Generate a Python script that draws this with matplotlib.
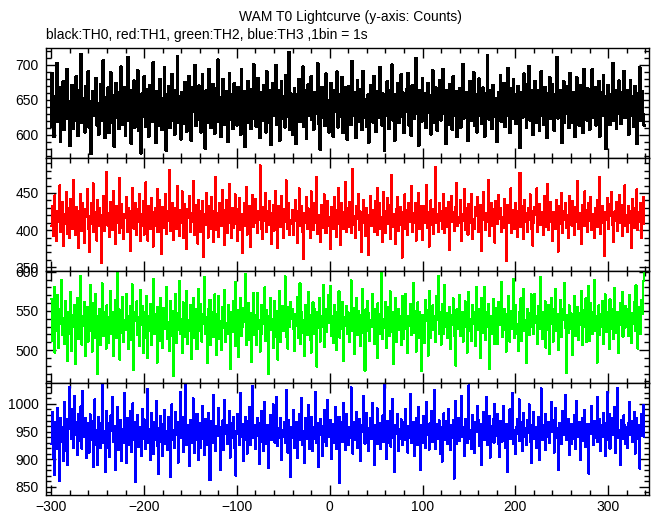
import numpy as np
import matplotlib
matplotlib.use("Agg")
import matplotlib.pyplot as plt
from matplotlib.ticker import MultipleLocator

plt.rcParams['font.family'] = ['Liberation Sans', 'DejaVu Sans']

title = "WAM T0 Lightcurve (y-axis: Counts)"
subtitle = "black:TH0, red:TH1, green:TH2, blue:TH3 ,1bin = 1s"
t_start = -300  # first bin time (s), 1 s bins

th0 = [
612, 688, 641, 598, 655, 630, 702, 619, 644, 667, 590, 638, 651, 676, 607, 629, 660, 694, 623, 648,
585, 642, 671, 633, 609, 657, 620, 683, 646, 599, 664, 631, 715, 618, 652, 637, 604, 669, 642, 626,
690, 611, 648, 573, 639, 662, 627, 658, 681, 614, 645, 600, 636, 672, 649, 621, 706, 633, 596, 654,
628, 667, 603, 645, 689, 617, 639, 656, 583, 642, 674, 625, 661, 609, 650, 697, 632, 615, 668, 641,
599, 653, 634, 711, 620, 647, 588, 663, 638, 677, 611, 645, 629, 692, 606, 651, 640, 574, 659, 626,
683, 637, 612, 665, 644, 598, 671, 630, 656, 619, 703, 641, 627, 589, 662, 648, 614, 679, 635, 607,
652, 624, 696, 640, 578, 658, 633, 669, 610, 647, 686, 621, 643, 601, 664, 636, 712, 618, 655, 629,
594, 661, 642, 616, 675, 638, 605, 650, 684, 627, 646, 592, 668, 633, 657, 699, 613, 641, 622, 670,
639, 604, 659, 686, 625, 648, 581, 663, 634, 617, 693, 645, 610, 656, 672, 630, 602, 666, 643, 619,
707, 636, 653, 597, 641, 679, 615, 649, 628, 662, 590, 644, 688, 622, 637, 658, 609, 673, 646, 631,
614, 668, 637, 650, 600, 694, 627, 645, 662, 583, 655, 632, 676, 618, 641, 609, 665, 639, 701, 624,
657, 612, 643, 681, 629, 596, 660, 637, 620, 671, 646, 604, 690, 633, 651, 617, 664, 586, 642, 674,
628, 653, 699, 615, 640, 663, 592, 647, 676, 623, 638, 655, 611, 685, 644, 626, 718, 608, 659, 635,
601, 648, 666, 631, 587, 657, 642, 679, 619, 650, 634, 697, 612, 645, 663, 595, 640, 672, 627, 654,
683, 622, 639, 608, 661, 646, 630, 702, 616, 653, 579, 642, 668, 625, 656, 613, 687, 637, 649, 604,
641, 674, 620, 655, 598, 664, 633, 647, 690, 611, 639, 658, 626, 682, 603, 650, 667, 622, 645, 593,
669, 632, 648, 615, 705, 640, 627, 661, 596, 652, 678, 619, 643, 636, 665, 607, 691, 634, 650, 624,
612, 657, 589, 646, 671, 630, 653, 618, 684, 639, 605, 662, 648, 625, 696, 637, 614, 659, 642, 577,
655, 628, 676, 644, 609, 663, 636, 700, 621, 649, 592, 658, 631, 673, 645, 617, 640, 686, 626, 660,
603, 647, 633, 665, 688, 614, 651, 638, 599, 670, 642, 623, 657, 709, 630, 646, 585, 664, 637, 619,
681, 640, 625, 659, 610, 648, 674, 632, 656, 601, 643, 692, 618, 653, 629, 667, 606, 645, 636, 678,
621, 658, 694, 630, 646, 587, 663, 641, 615, 672, 639, 654, 608, 683, 627, 650, 662, 597, 644, 633,
666, 611, 647, 639, 701, 624, 655, 629, 661, 592, 650, 676, 620, 643, 635, 689, 613, 658, 641, 604,
648, 680, 627, 653, 616, 667, 638, 598, 659, 645, 713, 631, 622, 664, 647, 609, 671, 636, 652, 626,
590, 644, 661, 630, 685, 619, 650, 637, 674, 612, 657, 641, 695, 628, 603, 666, 646, 624, 679, 639,
657, 616, 642, 669, 633, 582, 660, 648, 625, 687, 640, 654, 611, 672, 637, 698, 621, 646, 663, 600,
634, 676, 652, 618, 645, 663, 606, 641, 690, 628, 655, 615, 668, 643, 596, 659, 636, 682, 623, 649,
672, 629, 606, 658, 640, 711, 624, 651, 635, 664, 589, 647, 676, 618, 655, 631, 669, 644, 610, 688,
643, 617, 661, 636, 597, 653, 682, 627, 646, 613, 670, 639, 658, 603, 694, 632, 649, 621, 666, 640,
608, 659, 645, 693, 625, 640, 668, 614, 652, 631, 676, 598, 643, 661, 627, 685, 636, 655, 580, 647,
671, 634, 615, 657, 644, 702, 621, 638, 663, 609, 649, 630, 677, 642, 616, 660, 637, 691, 625, 652,
635, 664, 601, 646, 678, 627, 655, 640, 612, 669, 648, 587, 659, 633, 696, 620, 645, 662, 629, 614,
]

th1 = [
405, 433, 392, 418, 447, 401, 385, 426, 411, 460, 397, 414, 438, 379, 422, 408, 451, 395, 417, 429,
389, 442, 413, 402, 468, 420, 394, 431, 407, 376, 425, 415, 449, 399, 436, 410, 383, 428, 418, 455,
402, 371, 419, 436, 408, 463, 397, 424, 413, 386, 441, 405, 430, 420, 356, 417, 446, 399, 427, 411,
478, 406, 423, 391, 438, 414, 400, 452, 419, 381, 433, 409, 426, 396, 470, 412, 435, 403, 388, 421,
416, 444, 398, 430, 407, 372, 425, 413, 457, 402, 419, 437, 393, 428, 411, 448, 385, 422, 406, 439,
394, 421, 464, 410, 386, 432, 417, 401, 443, 425, 378, 414, 429, 406, 455, 397, 420, 440, 409, 368,
431, 403, 418, 449, 395, 426, 412, 481, 399, 422, 408, 437, 387, 415, 430, 401, 459, 418, 392, 427,
410, 452, 389, 420, 435, 405, 374, 428, 416, 446, 398, 423, 411, 466, 393, 417, 434, 404, 382, 441,
425, 397, 412, 439, 364, 421, 407, 450, 413, 390, 432, 419, 402, 445, 426, 384, 414, 472, 400, 423,
391, 436, 418, 405, 454, 411, 427, 380, 420, 441, 396, 409, 462, 415, 389, 430, 403, 424, 448, 408,
417, 385, 429, 443, 400, 421, 369, 413, 436, 406, 458, 394, 422, 410, 433, 377, 416, 447, 404, 428,
442, 409, 396, 425, 414, 487, 401, 419, 388, 431, 412, 450, 398, 426, 407, 439, 415, 381, 423, 434,
399, 421, 453, 407, 376, 432, 417, 404, 446, 413, 390, 428, 411, 467, 402, 420, 436, 393, 414, 408,
427, 394, 412, 440, 419, 383, 425, 456, 406, 418, 432, 398, 361, 423, 410, 444, 401, 429, 415, 389,
452, 413, 400, 426, 437, 409, 471, 395, 420, 411, 384, 434, 417, 403, 448, 422, 396, 412, 439, 406,
418, 375, 431, 414, 402, 445, 420, 391, 427, 457, 408, 416, 380, 437, 424, 401, 413, 465, 397, 429,
404, 438, 411, 396, 423, 482, 407, 419, 389, 433, 415, 448, 400, 425, 370, 414, 441, 409, 426, 392,
430, 412, 367, 421, 446, 405, 427, 416, 398, 439, 411, 457, 393, 420, 436, 402, 418, 384, 451, 413,
396, 425, 443, 408, 417, 388, 434, 474, 404, 422, 412, 381, 429, 445, 399, 416, 431, 407, 363, 424,
415, 448, 402, 427, 393, 436, 411, 420, 459, 398, 423, 410, 437, 386, 426, 413, 450, 401, 419, 433,
387, 419, 432, 410, 461, 403, 424, 378, 416, 440, 407, 428, 395, 414, 485, 409, 421, 398, 436, 412,
426, 401, 417, 449, 396, 430, 412, 404, 438, 373, 420, 446, 411, 424, 399, 417, 432, 463, 405, 418,
410, 441, 385, 422, 413, 455, 400, 429, 418, 394, 435, 409, 426, 449, 388, 415, 402, 431, 419, 444,
397, 420, 434, 406, 372, 427, 451, 414, 400, 423, 411, 468, 392, 419, 436, 405, 428, 412, 383, 439,
422, 408, 447, 415, 430, 398, 417, 403, 442, 425, 358, 413, 434, 409, 421, 456, 396, 427, 411, 401,
437, 413, 391, 426, 419, 477, 404, 432, 416, 388, 440, 411, 423, 397, 430, 414, 448, 402, 425, 379,
409, 431, 420, 456, 398, 417, 435, 407, 424, 413, 393, 446, 418, 404, 429, 462, 400, 421, 438, 411,
385, 424, 416, 402, 441, 427, 371, 419, 433, 408, 450, 396, 425, 414, 437, 403, 420, 389, 446, 417,
428, 406, 439, 418, 394, 431, 411, 466, 401, 423, 415, 381, 434, 420, 405, 452, 412, 427, 398, 436,
413, 445, 400, 422, 409, 389, 430, 417, 440, 404, 426, 471, 395, 418, 432, 410, 365, 424, 414, 443,
401, 428, 419, 435, 451, 407, 384, 425, 412, 438, 399, 421, 447, 410, 427, 392, 434, 416, 460, 405,
420, 397, 433, 410, 426, 376, 442, 415, 403, 429, 418, 455, 400, 424, 411, 437, 390, 428, 445, 408,
]

th2 = [
565, 512, 538, 581, 497, 546, 525, 570, 503, 552, 533, 590, 519, 541, 508, 563, 529, 486, 548, 536,
521, 574, 499, 545, 530, 558, 482, 537, 567, 514, 550, 526, 595, 507, 543, 531, 561, 492, 539, 555,
511, 547, 583, 524, 498, 560, 535, 516, 572, 544, 470, 529, 553, 506, 540, 585, 518, 549, 527, 502,
557, 533, 509, 542, 576, 521, 548, 493, 536, 564, 515, 598, 530, 552, 488, 545, 522, 568, 510, 539,
526, 571, 544, 501, 535, 556, 513, 584, 528, 475, 549, 537, 562, 519, 542, 505, 577, 532, 556, 496,
548, 516, 534, 569, 490, 543, 525, 559, 507, 538, 591, 520, 546, 531, 484, 555, 539, 512, 566, 529,
503, 554, 527, 541, 580, 514, 536, 499, 563, 545, 518, 550, 467, 533, 572, 509, 547, 526, 588, 521,
540, 496, 561, 532, 517, 549, 575, 508, 538, 524, 557, 489, 543, 567, 515, 530, 553, 501, 536, 578,
525, 559, 511, 546, 534, 593, 520, 542, 483, 552, 529, 564, 506, 539, 548, 517, 571, 533, 494, 546,
569, 514, 537, 500, 555, 528, 544, 577, 510, 535, 521, 558, 540, 476, 549, 523, 562, 531, 505, 587,
532, 551, 491, 543, 566, 518, 529, 554, 536, 597, 507, 541, 524, 560, 513, 547, 485, 538, 573, 519,
545, 506, 573, 527, 539, 498, 558, 521, 547, 533, 580, 512, 551, 535, 469, 544, 566, 526, 540, 503,
516, 563, 534, 550, 488, 542, 576, 511, 530, 556, 524, 543, 594, 517, 537, 502, 555, 529, 561, 540,
553, 527, 499, 546, 531, 568, 515, 537, 585, 508, 548, 522, 539, 492, 557, 534, 519, 574, 545, 513,
497, 540, 561, 520, 552, 536, 479, 549, 528, 566, 511, 544, 530, 583, 504, 538, 553, 523, 541, 570,
535, 582, 518, 544, 509, 557, 532, 500, 549, 539, 575, 516, 546, 527, 561, 486, 542, 531, 556, 520,
548, 510, 537, 589, 525, 541, 554, 495, 533, 567, 519, 550, 538, 505, 545, 578, 522, 536, 474, 552,
524, 563, 547, 512, 539, 529, 571, 544, 508, 553, 532, 490, 560, 537, 521, 546, 599, 514, 540, 528,
561, 503, 530, 555, 518, 575, 536, 523, 548, 482, 542, 566, 511, 535, 552, 526, 543, 507, 569, 538,
514, 547, 572, 527, 496, 544, 531, 559, 519, 541, 586, 522, 550, 498, 537, 561, 515, 548, 532, 473,
545, 528, 509, 564, 537, 551, 493, 540, 576, 516, 533, 557, 526, 543, 510, 569, 538, 595, 521, 549,
507, 559, 542, 520, 583, 529, 547, 515, 536, 555, 501, 545, 532, 566, 518, 539, 480, 552, 527, 544,
570, 518, 535, 548, 511, 539, 562, 530, 497, 546, 574, 524, 540, 512, 557, 533, 549, 505, 580, 531,
526, 553, 490, 541, 567, 522, 536, 581, 513, 548, 529, 559, 476, 543, 534, 520, 565, 539, 508, 554,
539, 508, 561, 532, 545, 587, 517, 540, 553, 526, 498, 546, 534, 569, 511, 550, 527, 542, 591, 515,
558, 534, 521, 499, 549, 530, 566, 512, 543, 578, 525, 538, 484, 552, 536, 519, 547, 571, 530, 545,
520, 572, 544, 535, 508, 556, 527, 593, 537, 514, 548, 531, 562, 503, 540, 526, 558, 495, 543, 567,
533, 511, 553, 578, 524, 541, 500, 546, 531, 564, 517, 552, 539, 586, 528, 471, 545, 522, 557, 536,
547, 526, 494, 542, 569, 518, 538, 555, 513, 547, 532, 575, 506, 541, 551, 529, 566, 510, 537, 582,
512, 560, 539, 521, 548, 590, 525, 543, 484, 535, 557, 519, 546, 530, 563, 508, 541, 571, 523, 549,
536, 501, 565, 544, 527, 553, 514, 579, 538, 522, 549, 496, 543, 560, 532, 574, 517, 545, 528, 556,
552, 529, 518, 570, 540, 509, 547, 533, 561, 524, 583, 537, 502, 555, 541, 520, 564, 546, 588, 598,
]

th3 = [
928, 985, 902, 968, 871, 950, 918, 992, 947, 860, 975, 931, 958, 897, 1003, 940, 915, 972, 889, 954,
1031, 962, 937, 990, 921, 1015, 944, 968, 908, 982, 951, 933, 996, 919, 1024, 958, 940, 975, 903, 966,
947, 912, 981, 935, 958, 885, 969, 1008, 926, 953, 890, 977, 943, 921, 965, 1036, 930, 950, 877, 988,
921, 966, 943, 904, 979, 951, 1012, 932, 960, 881, 945, 994, 916, 963, 938, 971, 897, 954, 929, 1019,
958, 893, 975, 940, 926, 987, 913, 952, 1001, 934, 967, 858, 946, 980, 922, 959, 942, 906, 991, 937,
972, 944, 918, 961, 1027, 929, 955, 899, 983, 948, 910, 968, 935, 1005, 924, 957, 873, 946, 978, 931,
905, 963, 989, 927, 950, 916, 976, 941, 867, 959, 999, 934, 952, 920, 985, 943, 967, 894, 956, 1021,
938, 977, 913, 954, 942, 1039, 925, 961, 946, 887, 971, 930, 957, 1010, 911, 948, 935, 982, 962, 899,
965, 921, 950, 996, 936, 908, 973, 949, 926, 984, 953, 862, 940, 969, 930, 1016, 947, 915, 960, 942,
993, 947, 880, 959, 932, 970, 917, 1007, 945, 961, 928, 952, 988, 903, 966, 939, 976, 921, 951, 870,
946, 982, 958, 925, 1019, 940, 963, 897, 954, 977, 935, 910, 969, 948, 995, 926, 957, 1032, 938, 962,
918, 953, 974, 942, 891, 966, 931, 988, 950, 915, 1004, 944, 927, 962, 884, 949, 980, 934, 956, 999,
961, 930, 946, 1013, 924, 957, 939, 975, 898, 952, 941, 967, 929, 1026, 955, 912, 971, 943, 868, 958,
939, 989, 921, 955, 968, 902, 944, 981, 935, 960, 1011, 926, 950, 893, 974, 946, 937, 998, 919, 963,
976, 914, 958, 937, 951, 1022, 930, 965, 885, 947, 973, 943, 905, 960, 989, 932, 954, 924, 1007, 941,
952, 971, 900, 964, 929, 948, 994, 919, 959, 940, 977, 856, 945, 967, 931, 1002, 950, 916, 982, 935,
925, 959, 944, 1030, 938, 910, 968, 953, 934, 986, 921, 955, 973, 896, 949, 962, 1014, 937, 928, 966,
983, 942, 915, 956, 974, 936, 1001, 947, 889, 961, 940, 992, 927, 953, 966, 918, 945, 979, 932, 1041,
944, 901, 969, 930, 957, 988, 923, 950, 1009, 938, 876, 962, 946, 981, 914, 955, 937, 972, 925, 958,
967, 934, 991, 949, 912, 960, 939, 1018, 930, 953, 968, 905, 944, 975, 938, 926, 995, 952, 881, 961,
929, 978, 947, 921, 1003, 943, 956, 917, 965, 940, 987, 931, 957, 1025, 919, 948, 964, 936, 970, 909,
959, 895, 954, 983, 935, 969, 948, 928, 990, 951, 916, 961, 939, 971, 865, 950, 1006, 927, 944, 975,
933, 966, 1015, 940, 958, 906, 973, 945, 929, 962, 1034, 937, 953, 918, 980, 942, 911, 968, 950, 996,
971, 924, 948, 963, 889, 956, 985, 935, 951, 1012, 926, 945, 978, 903, 960, 939, 972, 930, 1000, 947,
942, 981, 927, 904, 969, 947, 932, 997, 958, 920, 964, 946, 877, 955, 990, 936, 961, 1020, 928, 952,
910, 958, 973, 946, 1008, 933, 950, 968, 914, 983, 941, 957, 925, 970, 947, 999, 932, 893, 962, 939,
985, 937, 959, 921, 952, 976, 899, 944, 1028, 935, 961, 949, 982, 916, 956, 940, 968, 929, 954, 1003,
949, 970, 912, 992, 938, 957, 946, 880, 966, 953, 927, 987, 943, 962, 1017, 934, 951, 973, 908, 960,
927, 964, 951, 936, 980, 919, 1005, 955, 941, 968, 898, 957, 975, 933, 946, 989, 922, 964, 949, 874,
963, 945, 997, 958, 926, 969, 938, 954, 1013, 931, 950, 972, 915, 961, 940, 983, 947, 906, 966, 1022,
934, 982, 919, 951, 975, 943, 960, 995, 912, 957, 1029, 939, 953, 890, 971, 948, 936, 979, 961, 927,
958, 920, 966, 1004, 944, 969, 931, 953, 986, 910, 948, 975, 937, 962, 883, 955, 981, 942, 998, 940,
]

series = [th0, th1, th2, th3]
colors = ["black", "#ff0000", "#00ff00", "#0000ff"]
linewidths = [1.4, 0.8, 0.8, 0.8]
ylims = [(567, 724), (345, 497), (458, 601), (835, 1038)]
xlim = (-306, 344)

W, H = 652, 515
fig = plt.figure(figsize=(W / 100, H / 100), dpi=100)

left = 45.7 / W
right = 649.0 / W
edges_px = [48, 158, 271, 383, 495]

axes = []
for i in range(4):
    top_px, bot_px = edges_px[i], edges_px[i + 1]
    ax = fig.add_axes([left, 1 - bot_px / H, right - left, (bot_px - top_px) / H])
    y = np.asarray(series[i])
    t = t_start + np.arange(len(y))
    ax.step(t, y, where='mid', color=colors[i], lw=linewidths[i], antialiased=False)
    ax.set_xlim(*xlim)
    ax.set_ylim(*ylims[i])
    ax.xaxis.set_major_locator(MultipleLocator(100))
    ax.xaxis.set_minor_locator(MultipleLocator(20))
    ax.yaxis.set_major_locator(MultipleLocator(50))
    ax.yaxis.set_minor_locator(MultipleLocator(10))
    ax.tick_params(which='both', direction='in', top=True, right=True,
                   width=1.0, labelsize=10, colors='black')
    ax.tick_params(which='major', length=7)
    ax.tick_params(which='minor', length=3.5)
    ax.tick_params(axis='y', pad=5)
    for s in ax.spines.values():
        s.set_linewidth(1.0)
        s.set_zorder(5)
    if i < 3:
        ax.tick_params(labelbottom=False)
    axes.append(ax)

fig.text(350 / W, 1 - 17 / H, title, ha='center', va='center', fontsize=10)
fig.text(46 / W, 1 - 35 / H, subtitle, ha='left', va='center', fontsize=10)

fig.savefig("out.png", dpi=100)
